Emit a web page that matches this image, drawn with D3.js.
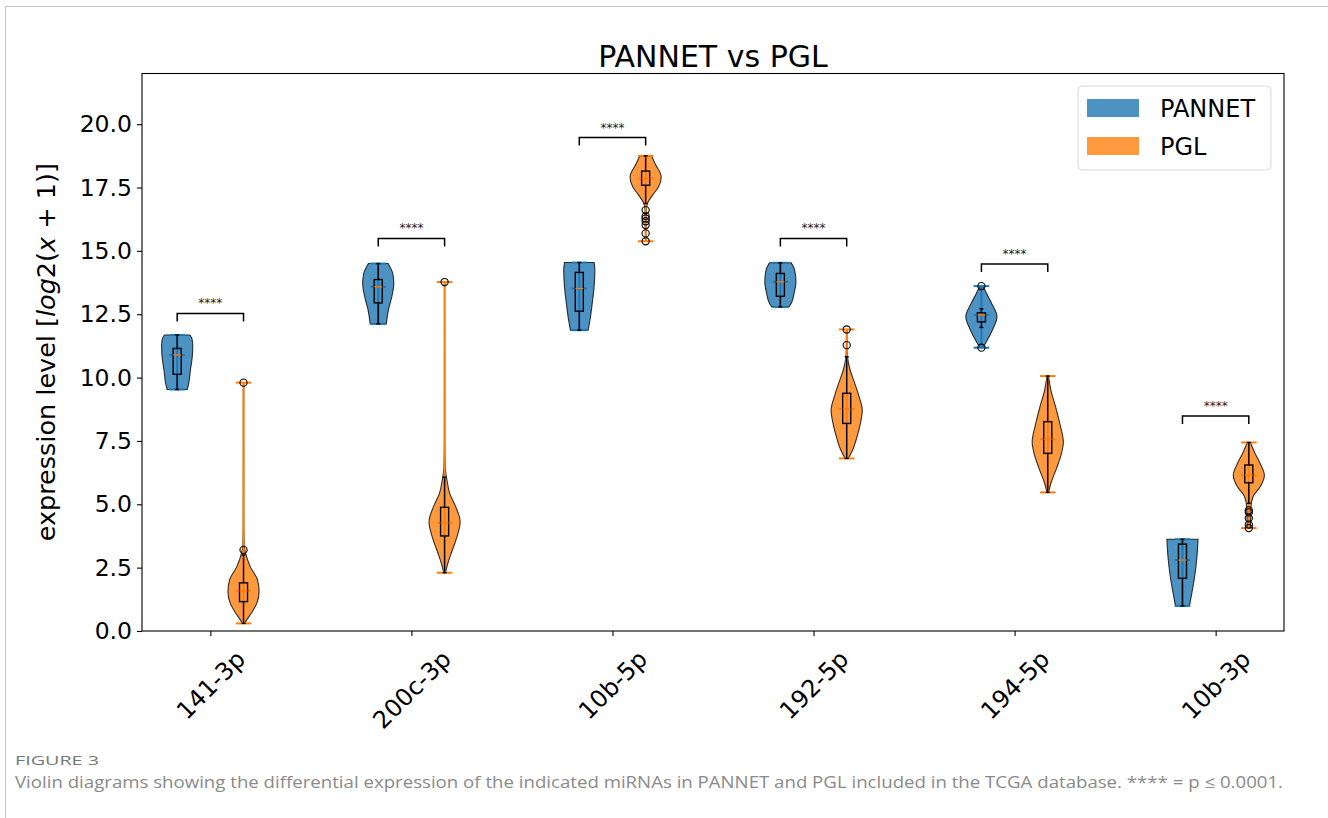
<!DOCTYPE html>
<html>
<head>
<meta charset="utf-8">
<script src="https://cdn.jsdelivr.net/npm/d3@7"></script>
<style>
  body { margin: 0; background: #fff; }
  svg { display: block; }
</style>
</head>
<body>
<svg id="chart" width="1328" height="818"></svg>
<script>
// miRNA categories along the x axis
const categories = ["141-3p", "200c-3p", "10b-5p", "192-5p", "194-5p", "10b-3p"];
const groupNames = ["PANNET", "PGL"];
const yTicks = [0, 2.5, 5, 7.5, 10, 12.5, 15, 17.5, 20];

// Box statistics per category: [lower whisker, Q1, median, Q3, upper whisker]
const pannetBox = [
  [9.53, 10.13, 10.89, 11.15, 11.68],
  [12.12, 12.95, 13.58, 13.87, 14.50],
  [11.87, 12.62, 13.52, 14.15, 14.54],
  [12.79, 13.21, 13.78, 14.11, 14.53],
  [11.98, 12.20, 12.47, 12.56, 12.72],
  [0.99, 2.08, 2.80, 3.43, 3.62]
];
const pglBox = [
  [0.30, 1.16, 1.59, 1.90, 3.00],
  [2.30, 3.75, 4.27, 4.88, 6.07],
  [16.87, 17.59, 17.86, 18.15, 18.75],
  [6.81, 8.19, 8.76, 9.38, 10.82],
  [5.47, 7.01, 7.57, 8.26, 10.06],
  [5.04, 5.85, 6.15, 6.55, 7.44]
];

// Full data range per category: [min, max]
const pannetRange = [[9.53, 11.68], [12.12, 14.50], [11.87, 14.54], [12.79, 14.53], [11.18, 13.61], [0.99, 3.62]];
const pglRange = [[0.30, 9.80], [2.30, 13.77], [15.38, 18.75], [6.81, 11.90], [5.47, 10.06], [4.06, 7.44]];

// Outliers beyond the whiskers
const pannetFliers = [[], [], [], [], [13.61, 11.18], []];
const pglFliers = [
  [3.2, 9.8],
  [13.77],
  [16.61, 16.37, 16.28, 16.17, 16.02, 15.69, 15.38],
  [11.28, 11.90],
  [],
  [4.76, 4.68, 4.45, 4.20, 4.06]
];

// Kernel density outline per violin: [value, relative density]
const pannetDensity = [
  [[9.53, 0.65], [9.8, 0.75], [10.3, 0.85], [10.9, 0.98], [11.3, 1.0], [11.55, 0.94], [11.68, 0.82]],
  [[12.12, 0.52], [12.66, 0.65], [13.19, 0.87], [13.71, 1.0], [14.11, 0.93], [14.5, 0.63]],
  [[11.87, 0.57], [12.4, 0.72], [12.93, 0.83], [13.58, 0.95], [14.24, 1.0], [14.54, 0.95]],
  [[12.79, 0.55], [12.93, 0.7], [13.32, 0.88], [13.78, 1.0], [14.24, 0.92], [14.53, 0.7]],
  [[11.18, 0.1], [11.48, 0.38], [11.87, 0.7], [12.4, 1.0], [12.93, 0.65], [13.32, 0.33], [13.61, 0.1]],
  [[0.99, 0.45], [1.49, 0.6], [2.14, 0.78], [2.93, 0.93], [3.62, 1.0]]
];
const pglDensity = [
  [[0.3, 0.08], [0.37, 0.14], [0.7, 0.5], [1.09, 0.85], [1.55, 1.0], [2.01, 0.9], [2.54, 0.43], [3.07, 0.13], [3.4, 0.04], [4.5, 0.015], [9.8, 0.01]],
  [[2.3, 0.06], [2.54, 0.15], [3.06, 0.42], [3.59, 0.73], [4.31, 1.0], [4.9, 0.72], [5.43, 0.33], [5.96, 0.15], [6.48, 0.04], [7.5, 0.012], [13.77, 0.006]],
  [[15.38, 0.01], [16.5, 0.03], [16.74, 0.06], [16.93, 0.16], [17.2, 0.45], [17.53, 0.83], [17.92, 1.0], [18.45, 0.6], [18.75, 0.38]],
  [[6.81, 0.1], [7.14, 0.38], [7.66, 0.66], [8.19, 0.88], [8.72, 1.0], [9.24, 0.8], [9.77, 0.52], [10.3, 0.22], [10.69, 0.08], [11.2, 0.02], [11.9, 0.01]],
  [[5.47, 0.05], [5.83, 0.2], [6.35, 0.52], [7.01, 0.88], [7.45, 1.0], [8.19, 0.77], [8.85, 0.5], [9.51, 0.2], [10.06, 0.05]],
  [[4.06, 0.1], [4.5, 0.12], [4.9, 0.14], [5.3, 0.27], [5.69, 0.73], [6.15, 1.0], [6.62, 0.72], [7.01, 0.4], [7.44, 0.1]]
];

// Heights of the significance brackets and their labels
const bracketHeights = [12.53, 15.49, 19.47, 15.49, 14.48, 8.48];
const bracketLabels = ["****", "****", "****", "****", "****", "****"];

const FONT = "'DejaVu Sans', sans-serif";
const svg = d3.select("#chart");

// outer figure frame
svg.append("rect")
  .attr("x", 5.5).attr("y", 6.5).attr("width", 1400).attr("height", 900)
  .attr("fill", "none").attr("stroke", "#c8c8c8").attr("stroke-width", 1);

const plot = { left: 142, right: 1284, top: 73.5, bottom: 631 };
const x = d3.scaleLinear().domain([-0.34, 5.34]).range([plot.left, plot.right]);
const y = d3.scaleLinear().domain([0, 22]).range([plot.bottom, plot.top]);

const offset = 0.165;     // horizontal shift of each group from the tick
const violinW = 0.155;    // full violin width at peak density
const boxW = 0.04;
const capW = 0.02;
const px = w => x(w) - x(0);

const groups = [
  { name: groupNames[0], color: "#1f77b4", dx: -offset, box: pannetBox, range: pannetRange, fliers: pannetFliers, density: pannetDensity },
  { name: groupNames[1], color: "#ff7f0e", dx: offset, box: pglBox, range: pglRange, fliers: pglFliers, density: pglDensity }
];

const g = svg.append("g");

groups.forEach(grp => {
  categories.forEach((cat, i) => {
    const cx = x(i + grp.dx);
    const half = px(violinW) / 2;

    // violin body
    const area = d3.area()
      .y(d => y(d[0]))
      .x0(d => cx - d[1] * half)
      .x1(d => cx + d[1] * half)
      .curve(d3.curveMonotoneY);
    g.append("path")
      .attr("d", area(grp.density[i]))
      .attr("fill", grp.color).attr("fill-opacity", 0.8)
      .attr("stroke", "#111").attr("stroke-opacity", 0.85).attr("stroke-width", 1.1);

    // violin extrema / median lines
    const [mn, mx] = grp.range[i];
    const lh = px(violinW) / 4;
    const lineAttrs = sel => sel.attr("stroke", grp.color).attr("stroke-width", 2);
    lineAttrs(g.append("line").attr("x1", cx).attr("x2", cx).attr("y1", y(mn)).attr("y2", y(mx)));
    [mn, mx, grp.box[i][2]].forEach(v => {
      lineAttrs(g.append("line").attr("x1", cx - lh).attr("x2", cx + lh).attr("y1", y(v)).attr("y2", y(v)));
    });

    // box plot
    const [wl, q1, med, q3, wh] = grp.box[i];
    const bh = px(boxW) / 2, ch = px(capW) / 2;
    const blk = sel => sel.attr("stroke", "#000").attr("stroke-width", 1.4);
    blk(g.append("line").attr("x1", cx).attr("x2", cx).attr("y1", y(q3)).attr("y2", y(wh)));
    blk(g.append("line").attr("x1", cx).attr("x2", cx).attr("y1", y(q1)).attr("y2", y(wl)));
    [wl, wh].forEach(v => blk(g.append("line").attr("x1", cx - ch).attr("x2", cx + ch).attr("y1", y(v)).attr("y2", y(v))));
    blk(g.append("rect").attr("x", cx - bh).attr("width", 2 * bh)
      .attr("y", y(q3)).attr("height", y(q1) - y(q3)).attr("fill", "none"));
    g.append("line").attr("x1", cx - bh).attr("x2", cx + bh).attr("y1", y(med)).attr("y2", y(med))
      .attr("stroke", "#ff7f0e").attr("stroke-width", 1.4);
    grp.fliers[i].forEach(v => {
      g.append("circle").attr("cx", cx).attr("cy", y(v)).attr("r", 3.6)
        .attr("fill", "none").attr("stroke", "#000").attr("stroke-width", 1.1);
    });
  });
});

// significance brackets
categories.forEach((cat, i) => {
  const x1 = x(i - offset), x2 = x(i + offset);
  const h = y(bracketHeights[i]);
  g.append("path")
    .attr("d", `M${x1},${h + 8}V${h}H${x2}V${h + 8}`)
    .attr("fill", "none").attr("stroke", "#000").attr("stroke-width", 1.5);
  g.append("text")
    .attr("x", (x1 + x2) / 2).attr("y", h - 6)
    .attr("text-anchor", "middle")
    .attr("font-family", FONT).attr("font-size", 12).attr("fill", "#222")
    .text(bracketLabels[i]);
});

// axes frame
svg.append("rect")
  .attr("x", plot.left).attr("y", plot.top)
  .attr("width", plot.right - plot.left).attr("height", plot.bottom - plot.top)
  .attr("fill", "none").attr("stroke", "#000").attr("stroke-width", 1.1);

// y axis
const yAxis = svg.append("g")
  .attr("transform", `translate(${plot.left},0)`)
  .call(d3.axisLeft(y).tickValues(yTicks).tickFormat(d3.format(".1f")).tickSize(5).tickPadding(5));
yAxis.select(".domain").remove();
yAxis.selectAll("text").attr("font-family", FONT).attr("font-size", 23.5).attr("fill", "#000");
yAxis.selectAll("line").attr("stroke", "#000").attr("stroke-width", 1.1);

// x axis
const xFont = 24;
const xAxis = svg.append("g")
  .attr("transform", `translate(0,${plot.bottom})`)
  .call(d3.axisBottom(x).tickValues(d3.range(categories.length)).tickFormat(i => categories[i]).tickSize(5));
xAxis.select(".domain").remove();
xAxis.selectAll("line").attr("stroke", "#000").attr("stroke-width", 1.1);
xAxis.selectAll("text")
  .attr("font-family", FONT).attr("font-size", xFont).attr("fill", "#000")
  .attr("text-anchor", "middle").attr("dy", "0.346em")
  .each(function(d) {
    const L = this.getComputedTextLength();
    const Hh = xFont * 1.164;
    const bb = (L + Hh) * Math.SQRT1_2;
    d3.select(this).attr("y", 0).attr("x", 0)
      .attr("transform", `translate(0,${14 + bb / 2}) rotate(-45)`);
  });

// title
svg.append("text")
  .attr("x", (plot.left + plot.right) / 2).attr("y", 67)
  .attr("text-anchor", "middle")
  .attr("font-family", FONT).attr("font-size", 30).attr("fill", "#000")
  .text("PANNET vs PGL");

// y label
const yl = svg.append("text")
  .attr("transform", `translate(55,${(plot.top + plot.bottom) / 2}) rotate(-90)`)
  .attr("text-anchor", "middle")
  .attr("font-family", FONT).attr("font-size", 25.5).attr("fill", "#000");
yl.append("tspan").text("expression level [");
yl.append("tspan").attr("font-style", "italic").text("log");
yl.append("tspan").text("2(");
yl.append("tspan").attr("font-style", "italic").text("x");
yl.append("tspan").text(" + 1)]");

// legend
const lg = svg.append("g");
lg.append("rect")
  .attr("x", 1078).attr("y", 86).attr("width", 193).attr("height", 84).attr("rx", 4)
  .attr("fill", "#fff").attr("fill-opacity", 0.8).attr("stroke", "#d9d9d9").attr("stroke-width", 1);
groups.forEach((grp, k) => {
  const yy = 99 + k * 38;
  lg.append("rect").attr("x", 1087).attr("y", yy).attr("width", 52).attr("height", 18)
    .attr("fill", grp.color).attr("fill-opacity", 0.8);
  lg.append("text").attr("x", 1160).attr("y", yy + 17.5)
    .attr("font-family", FONT).attr("font-size", 24).attr("fill", "#000")
    .text(grp.name);
});

// figure caption
svg.append("text")
  .attr("x", 15).attr("y", 765)
  .attr("font-family", "'Open Sans', sans-serif").attr("font-size", 12.5)
  .attr("fill", "#777").attr("textLength", 84).attr("lengthAdjust", "spacingAndGlyphs")
  .text("FIGURE 3");
svg.append("text")
  .attr("x", 15).attr("y", 788)
  .attr("font-family", "'Open Sans', sans-serif").attr("font-size", 16.5)
  .attr("fill", "#8a8a8a").attr("textLength", 1268).attr("lengthAdjust", "spacingAndGlyphs")
  .text("Violin diagrams showing the differential expression of the indicated miRNAs in PANNET and PGL included in the TCGA database. **** = p \u2264 0.0001.");
</script>
</body>
</html>
